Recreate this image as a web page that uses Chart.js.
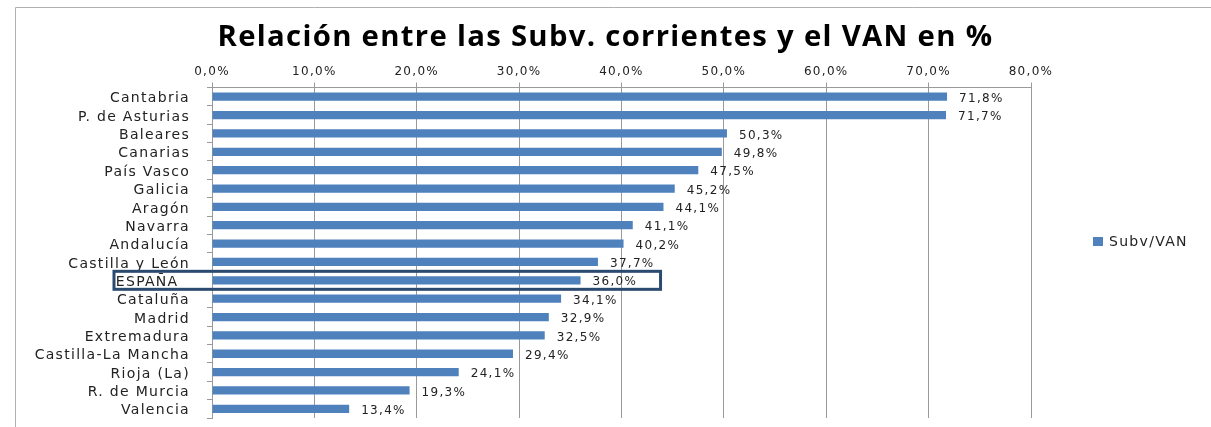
<!DOCTYPE html>
<html>
<head>
<meta charset="utf-8">
<script src="https://cdn.jsdelivr.net/npm/chart.js@4.4.1/dist/chart.umd.min.js"></script>
<style>
  html, body { margin: 0; padding: 0; background: #fff; }
  #wrap { width: 1211px; height: 427px; position: relative; }
</style>
</head>
<body>
<div id="wrap"><canvas id="subvChart" width="1211" height="427"></canvas></div>
<script>
const regions = [
  'Cantabria', 'P. de Asturias', 'Baleares', 'Canarias', 'País Vasco',
  'Galicia', 'Aragón', 'Navarra', 'Andalucía', 'Castilla y León',
  'ESPAÑA', 'Cataluña', 'Madrid', 'Extremadura', 'Castilla-La Mancha',
  'Rioja (La)', 'R. de Murcia', 'Valencia'
];
const subvVan = [
  71.8, 71.7, 50.3, 49.8, 47.5, 45.2, 44.1, 41.1, 40.2, 37.7,
  36.0, 34.1, 32.9, 32.5, 29.4, 24.1, 19.3, 13.4
];
const seriesName = 'Subv/VAN';
const highlighted = 'ESPAÑA';

const fmt = (v) => v.toFixed(1).replace('.', ',') + '%';

// wide spacing to mimic the stretched spreadsheet text
const spacing = {
  id: 'spacing',
  beforeInit(chart) { chart.ctx.letterSpacing = '1.3px'; },
  beforeDraw(chart) { chart.ctx.letterSpacing = '1.3px'; }
};

// value labels next to each bar
const valueLabels = {
  id: 'valueLabels',
  afterDatasetsDraw(chart) {
    const ctx = chart.ctx;
    const meta = chart.getDatasetMeta(0);
    ctx.save();
    ctx.font = '12px "DejaVu Sans"';
    ctx.fillStyle = '#222';
    ctx.textBaseline = 'middle';
    meta.data.forEach((bar, i) => {
      ctx.fillText(fmt(subvVan[i]), bar.x + 12, bar.y + 2);
    });
    ctx.restore();
  }
};

// legend on the right, box around the Spain row, outer frame
const extras = {
  id: 'extras',
  afterDraw(chart) {
    const ctx = chart.ctx;
    const y = chart.scales.y;
    const idx = regions.indexOf(highlighted);
    const cy = y.getPixelForValue(idx);
    const bar = chart.getDatasetMeta(0).data[idx];
    ctx.save();
    ctx.strokeStyle = '#2b4a6f';
    ctx.lineWidth = 3;
    ctx.strokeRect(114, cy - 9, bar.x + 80 - 114, 18);

    ctx.fillStyle = '#4f81bd';
    ctx.fillRect(1093, 237, 10, 9);
    ctx.fillStyle = '#222';
    ctx.font = '14px "DejaVu Sans"';
    ctx.textBaseline = 'middle';
    ctx.fillText(seriesName, 1109, 242);

    ctx.strokeStyle = '#b0b0b0';
    ctx.lineWidth = 1;
    ctx.beginPath();
    ctx.moveTo(15.5, 427);
    ctx.lineTo(15.5, 7.5);
    ctx.lineTo(1211, 7.5);
    ctx.stroke();
    ctx.restore();
  }
};

new Chart(document.getElementById('subvChart'), {
  type: 'bar',
  data: {
    labels: regions,
    datasets: [{
      label: seriesName,
      data: subvVan,
      backgroundColor: '#4f81bd',
      borderWidth: 0,
      barPercentage: 0.45,
      categoryPercentage: 1.0
    }]
  },
  options: {
    indexAxis: 'y',
    responsive: false,
    animation: false,
    layout: { padding: { top: 8, right: 0, bottom: 9, left: 0 } },
    plugins: {
      title: {
        display: true,
        text: 'Relación entre las Subv. corrientes y el VAN en %',
        font: { family: '"Open Sans"', size: 29.3, weight: 'bold' },
        color: '#000',
        padding: { top: 12, bottom: 7 }
      },
      legend: { display: false },
      tooltip: { enabled: false }
    },
    scales: {
      x: {
        position: 'top',
        min: 0,
        max: 80,
        ticks: {
          stepSize: 10,
          color: '#222',
          padding: 3,
          font: { family: '"DejaVu Sans"', size: 12 },
          callback: (v) => fmt(v)
        },
        grid: { color: '#9a9a9a', tickLength: 5 },
        border: { color: '#9a9a9a' }
      },
      y: {
        afterFit: (scale) => {
          scale.width = 212;
          scale.paddingTop = 0;
          scale.paddingBottom = 0;
        },
        ticks: {
          autoSkip: false,
          color: '#222',
          padding: 17,
          labelOffset: 2,
          font: { family: '"DejaVu Sans"', size: 14 },
          callback: (v, i) => regions[i] === highlighted ? regions[i] + '  ' : regions[i]
        },
        grid: { offset: true, drawOnChartArea: false, color: '#9a9a9a', tickLength: 5 },
        border: { color: '#9a9a9a' }
      },
      // empty strip on the right that holds the legend
      legendSpace: {
        type: 'category',
        axis: 'y',
        position: 'right',
        afterFit: (scale) => { scale.width = 180; },
        ticks: { display: false },
        grid: { display: false },
        border: { display: false }
      }
    }
  },
  plugins: [spacing, valueLabels, extras]
});
</script>
</body>
</html>
